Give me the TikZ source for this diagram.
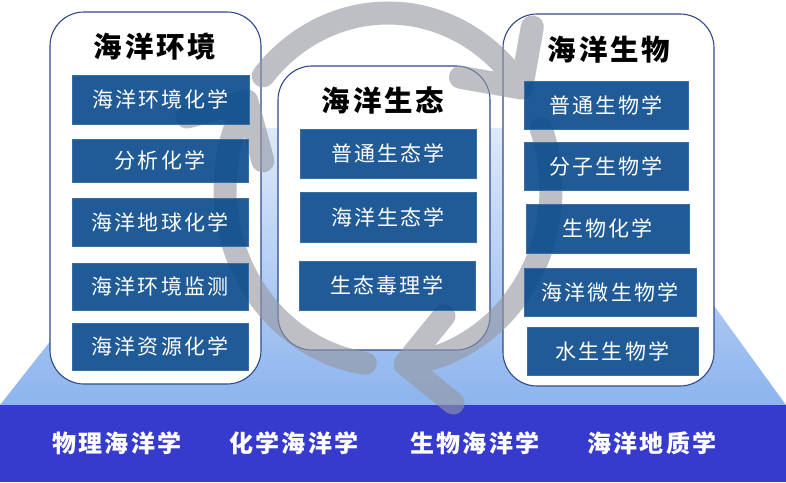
\documentclass[tikz,border=0pt]{standalone}
\usepackage{fontspec}
\newfontfamily\cjk{Noto Sans CJK SC}[LetterSpace=10]
\usetikzlibrary{positioning}
\definecolor{boxblue}{RGB}{8,74,140}
\definecolor{bandblue}{RGB}{54,58,205}
\definecolor{frameblue}{RGB}{47,74,138}
\definecolor{arcgray}{RGB}{150,152,162}
\definecolor{seatop}{RGB}{222,233,250}
\definecolor{seabot}{RGB}{140,180,238}

\begin{document}
\begin{tikzpicture}[x=1pt, y=1pt,
                    panel/.style={rectangle, rounded corners=34pt, draw=frameblue, line width=1.1pt, fill=white},
                    subject/.style={rectangle, fill=boxblue, fill opacity=0.9, text opacity=1, draw=boxblue!80!white,
                                    text=white, font=\cjk\fontsize{21}{25}\selectfont, inner sep=0pt, minimum height=48pt},
                    heading/.style={font=\cjk\bfseries\fontsize{28.5}{33}\selectfont, text=black},
                    basis/.style={font=\cjk\bfseries\fontsize{24}{28}\selectfont, text=white},
                    cycle/.style={draw=arcgray, draw opacity=0.62, line width=23pt, line cap=round, line join=round}]
  \useasboundingbox (0,0) rectangle (786,482);
  % sea floor and the base disciplines
  \shade[top color=seatop, bottom color=seabot] (0,77) -- (218,354) -- (585,354) -- (786,77) -- cycle;
  \fill[bandblue] (0,0) rectangle (786,77);
  \node[basis] (phys) at (117,39) {物理海洋学};
  \node[basis] (chem) at (294,39) {化学海洋学};
  \node[basis] (biol) at (475,39) {生物海洋学};
  \node[basis] (geol) at (652,39) {海洋地质学};
  % the three panels
  \node[panel, minimum width=211pt, minimum height=372pt] (envpanel) at (155.5,284) {};
  \node[panel, minimum width=212pt, minimum height=284pt] (ecopanel) at (384,274) {};
  \node[panel, minimum width=211pt, minimum height=372pt] (biopanel) at (608.5,282) {};
  \node[heading] (envtitle) at (155,435) {海洋环境};
  \node[heading] (ecotitle) at (383,382) {海洋生态};
  \node[heading] (biotitle) at (609,432) {海洋生物};
  % circular arrows
  \coordinate (hub) at (388,293);
  \draw[cycle] (hub) ++(262:163pt and 176pt)
    arc[start angle=262, end angle=150, x radius=163pt, y radius=176pt] coordinate (tipA)
    -- ++(195:62pt) (tipA) -- ++(285:62pt);
  \draw[cycle] (hub) ++(140:163pt and 176pt)
    arc[start angle=140, end angle=35, x radius=163pt, y radius=176pt] coordinate (tipB)
    -- ++(80:62pt) (tipB) -- ++(170:62pt);
  \draw[cycle] (hub) ++(20:163pt and 176pt)
    arc[start angle=20, end angle=-84, x radius=163pt, y radius=176pt] coordinate (tipC)
    -- ++(-39:62pt) (tipC) -- ++(51:62pt);
  % marine environment
  \node[subject, minimum width=177pt, minimum height=49pt] (env1) at (160.5,382.5) {海洋环境化学};
  \node[subject, minimum width=176pt, minimum height=43pt] (env2) at (160,321.5) {分析化学};
  \node[subject, minimum width=176pt] (env3) at (160,260) {海洋地球化学};
  \node[subject, minimum width=176pt, minimum height=47pt] (env4) at (160,195.5) {海洋环境监测};
  \node[subject, minimum width=176pt, minimum height=47pt] (env5) at (160,135.5) {海洋资源化学};
  % marine ecology
  \node[subject, minimum width=176pt, minimum height=49pt] (eco1) at (388,328.5) {普通生态学};
  \node[subject, minimum width=176pt, minimum height=50pt] (eco2) at (388,265) {海洋生态学};
  \node[subject, minimum width=176pt, minimum height=49pt] (eco3) at (387,196.5) {生态毒理学};
  % marine biology
  \node[subject, minimum width=164pt] (bio1) at (606,377) {普通生物学};
  \node[subject, minimum width=164pt] (bio2) at (606,316) {分子生物学};
  \node[subject, minimum width=163pt, minimum height=49pt] (bio3) at (607.5,253.5) {生物化学};
  \node[subject, minimum width=172pt] (bio4) at (610,190) {海洋微生物学};
  \node[subject, minimum width=171pt] (bio5) at (612.5,131) {水生生物学};
\end{tikzpicture}
\end{document}
